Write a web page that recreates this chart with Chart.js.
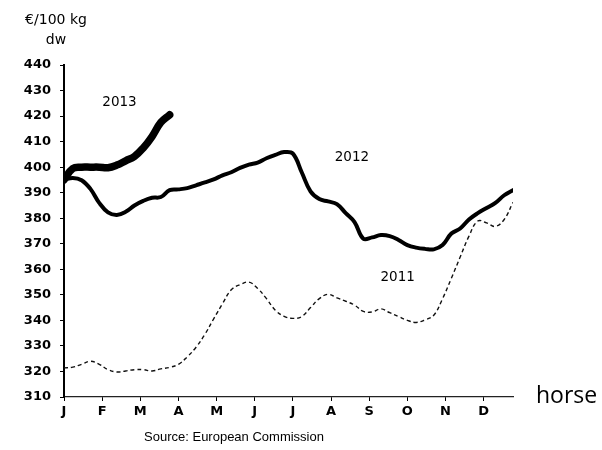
<!DOCTYPE html>
<html>
<head>
<meta charset="utf-8">
<script src="https://cdn.jsdelivr.net/npm/chart.js@4/dist/chart.umd.min.js"></script>
<style>
  html, body { margin: 0; padding: 0; background: #fff; }
  #wrap { width: 602px; height: 450px; }
</style>
</head>
<body>
<div id="wrap"><canvas id="c" width="602" height="450"></canvas></div>
<script>
// === Data (weekly prices, €/100 kg dw) ===
const months = ['J','F','M','A','M','J','J','A','S','O','N','D'];
const yTicks = [310,320,330,340,350,360,370,380,390,400,410,420,430,440];

const s2011 = [321.4,321.7,322.8,324,322.8,320.7,319.8,320.2,320.7,320.7,320.2,321,321.6,322.8,
  325.7,329.5,334.5,340.6,346.5,352,354,355,352.5,348.5,344,341.6,340.8,341.5,345,348.5,350.2,
  348.8,347.5,346,343.5,343.3,344.5,343,341.5,340,339.2,340.2,342,348.5,356.5,364.8,373,378.9,
  378.2,376.8,379.5,386.2];
const s2012 = [395,395.8,394.9,391.5,386,382.3,381.3,382.5,385,386.8,388,388.3,391,391.3,391.8,
  392.9,394,395.2,396.8,398,399.7,401,401.8,403.5,404.8,405.9,405.3,398,390.5,387.5,386.6,385.5,
  382,378.5,372,372.5,373.4,373,371.5,369.5,368.5,368,367.8,369.5,374,376,379.5,382,384,386,
  389,391];
const s2013 = [395,399.5,400,400,400,399.8,400.8,402.5,404.2,407.5,412,417.5,420.5];

const tagText  = ['2013','2012','2011'];
const tagWeek  = [7.3, 33.7, 38.9];
const tagValue = [425.5, 403.6, 356.6];

const toPts = arr => arr.map((v, i) => ({ x: i + 1, y: v }));
const SANS = '"DejaVu Sans", "Liberation Sans", Arial, sans-serif';

// === Plugin teks tambahan ===
const extraText = {
  id: 'extraText',
  afterDraw(chart) {
    const ctx = chart.ctx, xs = chart.scales.x, ys = chart.scales.y;
    ctx.save();
    ctx.fillStyle = '#000';
    ctx.textAlign = 'center';
    ctx.textBaseline = 'middle';
    ctx.font = '13.5px ' + SANS;
    tagText.forEach((t, i) => {
      ctx.fillText(t, xs.getPixelForValue(tagWeek[i]), ys.getPixelForValue(tagValue[i]));
    });
    ctx.font = '14px ' + SANS;
    ctx.fillText('€/100 kg', 56, 20);
    ctx.fillText('dw', 56, 40);
    ctx.font = '13px "Liberation Sans", Arial, sans-serif';
    ctx.fillText('Source: European Commission', 234, 437);
    ctx.textAlign = 'left';
    ctx.font = '23px "Open Sans", "Noto Sans", sans-serif';
    ctx.fillText('horse', 536, 396);
    ctx.restore();
  }
};

new Chart(document.getElementById('c'), {
  type: 'line',
  data: {
    datasets: [
      { label: '2011', data: toPts(s2011), borderColor: '#111', borderWidth: 1.4,
        borderDash: [4, 3], pointRadius: 0, tension: 0.4, fill: false },
      { label: '2012', data: toPts(s2012), borderColor: '#000', borderWidth: 4,
        pointRadius: 0, tension: 0.4, fill: false, borderCapStyle: 'round' },
      { label: '2013', data: toPts(s2013), borderColor: '#000', borderWidth: 7.5,
        pointRadius: 0, tension: 0.4, fill: false, borderCapStyle: 'round' }
    ]
  },
  options: {
    responsive: false,
    animation: false,
    devicePixelRatio: 1,
    layout: { padding: { left: 0, top: 65, right: 89, bottom: 28 } },
    plugins: { legend: { display: false }, tooltip: { enabled: false } },
    scales: {
      x: {
        type: 'linear', min: 1, max: 52,
        afterBuildTicks: s => { s.ticks = months.map((m, i) => ({ value: 1 + i * 52 / 12 })); },
        afterFit: s => { s.height = 25; },
        ticks: {
          callback: (v, i) => months[i],
          color: '#000', padding: 3, maxRotation: 0, autoSkip: false,
          font: { family: SANS, size: 13, weight: 'bold' }
        },
        grid: { drawOnChartArea: false, tickLength: 4, color: '#000', lineWidth: 1 },
        border: { display: true, color: '#222', width: 1.2 }
      },
      y: {
        min: 310, max: 440,
        afterBuildTicks: s => { s.ticks = yTicks.map(v => ({ value: v })); },
        afterFit: s => { s.width = 64; },
        ticks: {
          color: '#000', padding: 9,
          font: { family: SANS, size: 13, weight: 'bold' }
        },
        grid: { drawOnChartArea: false, tickLength: 4, color: '#000', lineWidth: 1 },
        border: { display: true, color: '#000', width: 2 }
      }
    }
  },
  plugins: [extraText]
});
</script>
</body>
</html>
